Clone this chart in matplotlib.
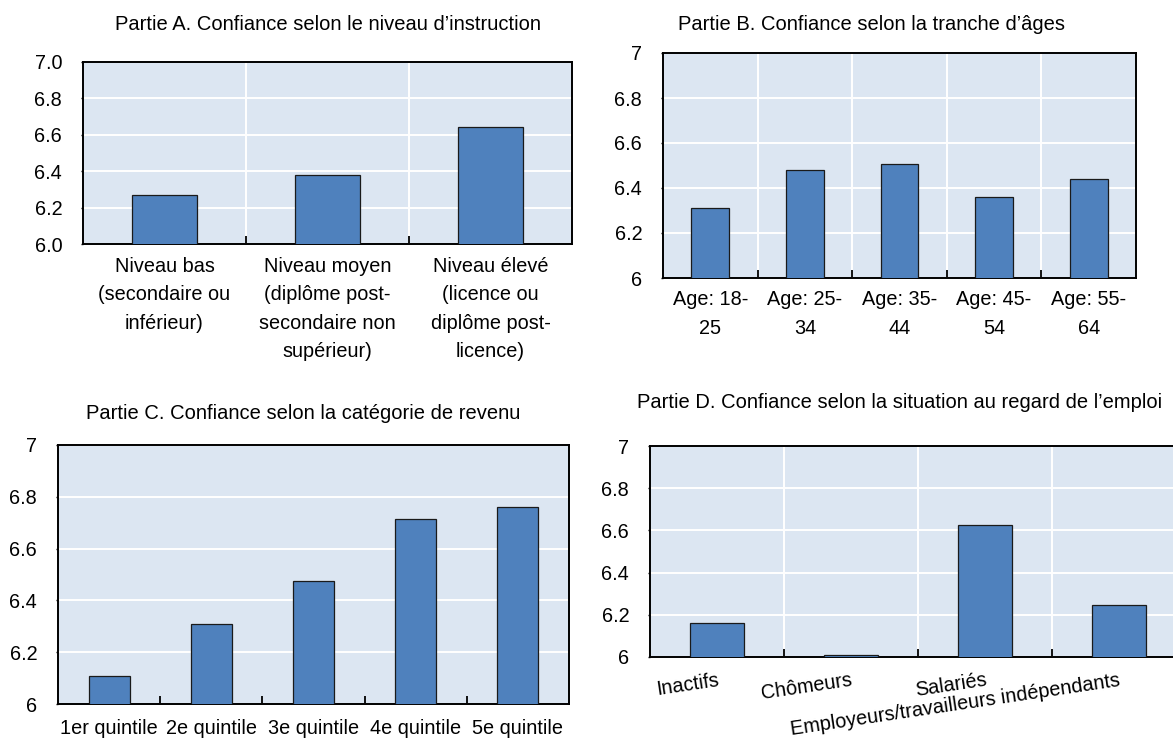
import numpy as np
import matplotlib
matplotlib.use("Agg")
import matplotlib.pyplot as plt
from matplotlib.ticker import FuncFormatter

W, H = 1173, 740
plt.rcParams["font.family"] = ["Liberation Sans", "DejaVu Sans"]
plt.rcParams["font.size"] = 14.3

BG = "#dce6f2"
BAR = "#4f81bd"

# ---- data ------------------------------------------------------------------
edu_labels = ["Niveau bas\n(secondaire ou\ninférieur)",
              "Niveau moyen\n(diplôme post-\nsecondaire non\nsupérieur)",
              "Niveau élevé\n(licence ou\ndiplôme post-\nlicence)"]
edu_values = [6.27, 6.38, 6.645]

age_labels = ["Age: 18-\n25", "Age: 25-\n34", "Age: 35-\n44", "Age: 45-\n54",
              "Age: 55-\n64"]
age_values = [6.31, 6.48, 6.505, 6.36, 6.44]

inc_labels = ["1er quintile", "2e quintile", "3e quintile", "4e quintile",
              "5e quintile"]
inc_values = [6.107, 6.308, 6.476, 6.716, 6.76]

emp_labels = ["Inactifs", "Chômeurs", "Salariés",
              "Employeurs/travailleurs indépendants"]
emp_values = [6.163, 6.011, 6.625, 6.245]

yticks = [6.0, 6.2, 6.4, 6.6, 6.8, 7.0]


def box(l, t, r, b):
    # pixel box -> figure fraction rect
    return [l / W, 1 - b / H, (r - l) / W, (b - t) / H]


fig = plt.figure(figsize=(W / 100, H / 100), dpi=100)


def panel(rect, labels, values, title, tx, ty, fmt, vcol="white",
          rot=0, xpad=7):
    ax = fig.add_axes(rect)
    ax.set_facecolor(BG)
    n = len(values)
    x = np.arange(n)
    ax.bar(x, values, 0.4, color=BAR, edgecolor="#1a1a1a", linewidth=0.9,
           zorder=3)
    ax.set_xlim(-0.5, n - 0.5)
    ax.set_ylim(6, 7)
    ax.set_yticks(yticks)
    ax.yaxis.set_major_formatter(FuncFormatter(fmt))
    ax.set_xticks(x)
    if rot:
        ax.set_xticklabels(labels, rotation=rot, ha="right",
                           rotation_mode="anchor")
    else:
        ax.set_xticklabels(labels, linespacing=1.62)
    ax.set_xticks(np.arange(n - 1) + 0.5, minor=True)
    ax.set_axisbelow(True)
    ax.grid(which="major", axis="y", color="white", lw=1.4)
    ax.grid(which="minor", axis="x", color=vcol, lw=1.4)
    ax.tick_params(axis="x", which="major", length=0, pad=xpad)
    ax.tick_params(axis="x", which="minor", direction="in", length=5.5,
                   width=1.3, color="black")
    ax.tick_params(axis="y", length=1.5, width=1, pad=13.5)
    for s in ax.spines.values():
        s.set_linewidth(1.4)
        s.set_color("black")
    fig.text(tx / W, 1 - ty / H, title, ha="center", va="center",
             fontsize=14.5)
    return ax


one_dec = lambda v, p: f"{v:.1f}"
gen = lambda v, p: f"{v:g}"

panel(box(83, 62, 572, 244), edu_labels, edu_values,
      "Partie A. Confiance selon le niveau d\u2019instruction", 328, 25,
      one_dec, xpad=9.5)
panel(box(663, 53, 1136, 278), age_labels, age_values,
      "Partie B. Confiance selon la tranche d\u2019âges", 871, 24, gen,
      xpad=9)
panel(box(58, 445, 569, 704), inc_labels, inc_values,
      "Partie C. Confiance selon la catégorie de revenu", 303, 414, gen,
      vcol=BG, xpad=10.5)
panel(box(650, 446, 1186, 657), emp_labels, emp_values,
      "Partie D. Confiance selon la situation au regard de l\u2019emploi",
      900, 403, gen, rot=8.5, xpad=10)

fig.savefig("out.png", dpi=100)
